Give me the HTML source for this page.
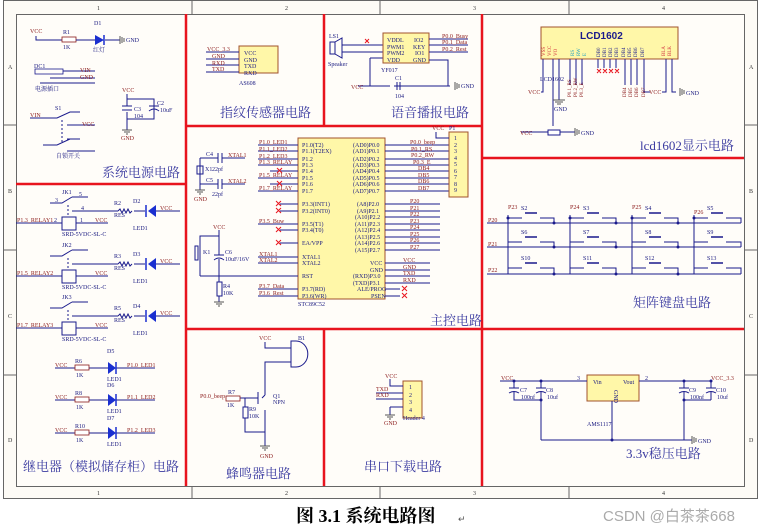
<!DOCTYPE html>
<html><head><meta charset="utf-8"><style>
html,body{margin:0;padding:0;background:#fff;width:769px;height:532px;overflow:hidden}
svg{display:block}
text{font-family:"Liberation Serif","Noto Serif CJK SC",serif}
.s{font-size:6px;fill:#1a1a80}
.r{font-size:6px;fill:#8b1a1a}
.cap{font-size:13px;fill:#3a3aa0}
.w{stroke:#1a1a8c;stroke-width:1;fill:none}
.g{stroke:#555;stroke-width:1;fill:none}
.red{stroke:#e8141e;stroke-width:2.5;fill:none}
.box{fill:#fff7a8;stroke:#a0522d;stroke-width:1}
.x{stroke:#e8141e;stroke-width:1}
</style></head><body>
<svg width="769" height="532" viewBox="0 0 769 532" xmlns="http://www.w3.org/2000/svg">
<rect x="0" y="0" width="769" height="532" fill="#fff"/>
<rect x="3.5" y="0.5" width="754" height="498" fill="#fdfbf6" stroke="#666"/>
<rect x="16.5" y="14.5" width="728" height="472" fill="#fffdf9" stroke="#666"/>
<g stroke="#666"><line x1="192" y1="0" x2="192" y2="14"/><line x1="380" y1="0" x2="380" y2="14"/><line x1="569" y1="0" x2="569" y2="14"/>
<line x1="192" y1="486" x2="192" y2="499"/><line x1="380" y1="486" x2="380" y2="499"/><line x1="569" y1="486" x2="569" y2="499"/>
<line x1="3" y1="125" x2="16" y2="125"/><line x1="3" y1="250" x2="16" y2="250"/><line x1="3" y1="375" x2="16" y2="375"/>
<line x1="744" y1="125" x2="757" y2="125"/><line x1="744" y1="250" x2="757" y2="250"/><line x1="744" y1="375" x2="757" y2="375"/></g>
<g style="font-size:6px;fill:#333">
<text x="97" y="10">1</text><text x="285" y="10">2</text><text x="473" y="10">3</text><text x="662" y="10">4</text>
<text x="97" y="495">1</text><text x="285" y="495">2</text><text x="473" y="495">3</text><text x="662" y="495">4</text>
<text x="8" y="69">A</text><text x="8" y="193">B</text><text x="8" y="318">C</text><text x="8" y="442">D</text>
<text x="749" y="69">A</text><text x="749" y="193">B</text><text x="749" y="318">C</text><text x="749" y="442">D</text></g>

<g class="red">
<line x1="186" y1="14" x2="186" y2="486"/><line x1="16" y1="184" x2="186" y2="184"/>
<line x1="186" y1="126" x2="482" y2="126"/><line x1="324" y1="14" x2="324" y2="126"/>
<line x1="482" y1="14" x2="482" y2="486"/><line x1="482" y1="158" x2="744" y2="158"/>
<line x1="186" y1="329" x2="744" y2="329"/><line x1="324" y1="329" x2="324" y2="486"/>
</g>

<text class="cap" x="102" y="177">系统电源电路</text>
<text class="cap" x="220" y="117">指纹传感器电路</text>
<text class="cap" x="391" y="117">语音播报电路</text>
<text class="cap" x="640" y="150">lcd1602显示电路</text>
<text class="cap" x="430" y="325">主控电路</text>
<text class="cap" x="633" y="307">矩阵键盘电路</text>
<text class="cap" x="23" y="471">继电器（模拟储存柜）电路</text>
<text class="cap" x="226" y="478">蜂鸣器电路</text>
<text class="cap" x="364" y="471">串口下载电路</text>
<text class="cap" x="626" y="458">3.3v稳压电路</text>

<g>
<text class="r" x="30" y="33">VCC</text><path class="w" d="M36 36 V40 H62"/>
<rect x="62" y="37" width="14" height="5" fill="#fff" stroke="#8b1a1a" stroke-width="0.8"/><text class="s" x="63" y="34">R1</text><text class="s" x="63" y="49">1K</text>
<path class="w" d="M76 40 H95 M105 40 H120"/><path d="M95 35 L95 45 L104 40 Z" fill="#1a2fd0"/><line x1="104" y1="35" x2="104" y2="45" stroke="#1a2fd0" stroke-width="1.5"/>
<text class="s" x="94" y="25">D1</text><text class="s" x="93" y="52">红灯</text><path class="g" d="M120 36 V44 M122 37 V43 M124 38 V42"/><text class="s" x="126" y="42">GND</text>
<text class="s" x="34" y="68">DC1</text><rect x="35" y="69" width="28" height="5" fill="none" stroke="#1a1a8c" stroke-width="0.8"/>
<path class="w" d="M63 71 H95 M40 83 H95 M50 78 H95"/><text class="r" x="80" y="72">VIN</text><text class="r" x="80" y="79">GND</text><text class="s" x="35" y="91">电源插口</text>
<text class="r" x="30" y="117">VIN</text><path class="w" d="M30 118 H57 L70 112 H80 M67 125 H95 M67 139 H80 M43 145 H57 L70 139 M67 151 H95"/>
<line x1="62" y1="120" x2="62" y2="143" stroke="#1a1a8c" stroke-dasharray="2,2"/><text class="s" x="55" y="110">S1</text><text class="r" x="82" y="126">VCC</text><text class="s" x="56" y="158">自锁开关</text>
<text class="r" x="122" y="92">VCC</text><path class="w" d="M127 94 V99 H154 V119 H127 V130 M127 99 V106 M127 112 V119"/>
<line x1="122" y1="106" x2="132" y2="106" stroke="#1a1a8c"/><line x1="122" y1="110" x2="132" y2="110" stroke="#1a1a8c"/>
<line x1="149" y1="106" x2="159" y2="106" stroke="#1a1a8c"/><path d="M149 111 Q154 107 159 111" class="w"/>
<text class="s" x="134" y="111">C3</text><text class="s" x="134" y="118">104</text><text class="s" x="157" y="105">C2</text><text class="s" x="160" y="112">10uF</text>
<path class="g" d="M122 130 H132 M124 132 H130 M126 134 H128"/><text class="r" x="121" y="140">GND</text>
</g>

<g>
<text class="s" x="62" y="194">JK1</text><path class="w" d="M50 203 H62 L72 197 M72 197 H88 M72 211 H118 M134 211 H145"/>
<text class="s" x="79" y="196">5</text><text class="s" x="55" y="202">3</text><text class="s" x="81" y="210">4</text>
<line x1="68" y1="205" x2="68" y2="217" stroke="#1a1a8c" stroke-dasharray="2,2"/>
<rect x="62" y="217" width="14" height="13" fill="none" stroke="#1a1a8c"/>
<path class="w" d="M16 223 H62 M76 223 H108"/><text class="r" x="17" y="222">P1.3_RELAY1</text><text class="s" x="54" y="222">2</text><text class="s" x="80" y="222">1</text><text class="r" x="95" y="222">VCC</text>
<text class="s" x="62" y="236">SRD-5VDC-SL-C</text>
<text class="s" x="114" y="205">R2</text><text class="s" x="114" y="217">RES</text><path class="w" d="M118 211 l2 -2 l2 4 l2 -4 l2 4 l2 -4 l2 4 l2 -2"/>
<path d="M148 211 L156 205 L156 217 Z" fill="#1a2fd0"/><line x1="146" y1="205" x2="146" y2="217" stroke="#1a2fd0" stroke-width="1.5"/>
<path class="w" d="M156 211 H180"/><text class="s" x="133" y="203">D2</text><text class="r" x="160" y="210">VCC</text><text class="s" x="133" y="230">LED1</text>
</g>
<g transform="translate(0,53)"><text class="s" x="62" y="194">JK2</text><path class="w" d="M50 203 H62 L72 197 M72 197 H88 M72 211 H118 M134 211 H145"/>
<line x1="68" y1="205" x2="68" y2="217" stroke="#1a1a8c" stroke-dasharray="2,2"/><rect x="62" y="217" width="14" height="13" fill="none" stroke="#1a1a8c"/>
<path class="w" d="M16 223 H62 M76 223 H108"/><text class="r" x="17" y="222">P1.5_RELAY2</text><text class="r" x="95" y="222">VCC</text><text class="s" x="62" y="236">SRD-5VDC-SL-C</text>
<text class="s" x="114" y="205">R3</text><text class="s" x="114" y="217">RES</text><path class="w" d="M118 211 l2 -2 l2 4 l2 -4 l2 4 l2 -4 l2 4 l2 -2"/>
<path d="M148 211 L156 205 L156 217 Z" fill="#1a2fd0"/><line x1="146" y1="205" x2="146" y2="217" stroke="#1a2fd0" stroke-width="1.5"/>
<path class="w" d="M156 211 H180"/><text class="s" x="133" y="203">D3</text><text class="r" x="160" y="210">VCC</text><text class="s" x="133" y="230">LED1</text></g>
<g transform="translate(0,105)"><text class="s" x="62" y="194">JK3</text><path class="w" d="M50 203 H62 L72 197 M72 197 H88 M72 211 H118 M134 211 H145"/>
<line x1="68" y1="205" x2="68" y2="217" stroke="#1a1a8c" stroke-dasharray="2,2"/><rect x="62" y="217" width="14" height="13" fill="none" stroke="#1a1a8c"/>
<path class="w" d="M16 223 H62 M76 223 H108"/><text class="r" x="17" y="222">P1.7_RELAY3</text><text class="r" x="95" y="222">VCC</text><text class="s" x="62" y="236">SRD-5VDC-SL-C</text>
<text class="s" x="114" y="205">R5</text><text class="s" x="114" y="217">RES</text><path class="w" d="M118 211 l2 -2 l2 4 l2 -4 l2 4 l2 -4 l2 4 l2 -2"/>
<path d="M148 211 L156 205 L156 217 Z" fill="#1a2fd0"/><line x1="146" y1="205" x2="146" y2="217" stroke="#1a2fd0" stroke-width="1.5"/>
<path class="w" d="M156 211 H180"/><text class="s" x="133" y="203">D4</text><text class="r" x="160" y="210">VCC</text><text class="s" x="133" y="230">LED1</text></g>

<g><text class="r" x="55" y="367">VCC</text><path class="w" d="M55 368 H75 M89 368 H108 M116 368 H155"/><rect x="75" y="365" width="14" height="5" fill="#fff" stroke="#8b1a1a" stroke-width="0.8"/>
<text class="s" x="75" y="363">R6</text><text class="s" x="76" y="377">1K</text><path d="M108 362 L116 368 L108 374 Z" fill="#1a2fd0"/><line x1="116" y1="362" x2="116" y2="374" stroke="#1a2fd0" stroke-width="1.5"/>
<text class="s" x="107" y="353">D5</text><text class="s" x="107" y="381">LED1</text><text class="r" x="127" y="367">P1.0_LED1</text></g>
<g transform="translate(0,32)"><text class="r" x="55" y="367">VCC</text><path class="w" d="M55 368 H75 M89 368 H108 M116 368 H155"/><rect x="75" y="365" width="14" height="5" fill="#fff" stroke="#8b1a1a" stroke-width="0.8"/>
<text class="s" x="75" y="363">R8</text><text class="s" x="76" y="377">1K</text><path d="M108 362 L116 368 L108 374 Z" fill="#1a2fd0"/><line x1="116" y1="362" x2="116" y2="374" stroke="#1a2fd0" stroke-width="1.5"/>
<text class="s" x="107" y="355">D6</text><text class="s" x="107" y="381">LED1</text><text class="r" x="127" y="367">P1.1_LED2</text></g>
<g transform="translate(0,65)"><text class="r" x="55" y="367">VCC</text><path class="w" d="M55 368 H75 M89 368 H108 M116 368 H155"/><rect x="75" y="365" width="14" height="5" fill="#fff" stroke="#8b1a1a" stroke-width="0.8"/>
<text class="s" x="75" y="363">R10</text><text class="s" x="76" y="377">1K</text><path d="M108 362 L116 368 L108 374 Z" fill="#1a2fd0"/><line x1="116" y1="362" x2="116" y2="374" stroke="#1a2fd0" stroke-width="1.5"/>
<text class="s" x="107" y="355">D7</text><text class="s" x="107" y="381">LED1</text><text class="r" x="127" y="367">P1.2_LED3</text></g>

<rect class="box" x="239" y="46" width="39" height="27"/>
<g class="w"><path d="M206 52 H239 M206 59 H239 M206 65 H239 M206 72 H239"/></g>
<text class="r" x="207" y="51">VCC_3.3</text><text class="r" x="212" y="58">GND</text><text class="r" x="212" y="65">RXD</text><text class="r" x="212" y="71">TXD</text>
<text class="s" x="244" y="55">VCC</text><text class="s" x="244" y="62">GND</text><text class="s" x="244" y="68">TXD</text><text class="s" x="244" y="75">RXD</text>
<text class="s" x="239" y="85">AS608</text>

<rect x="330" y="42" width="5" height="12" fill="none" stroke="#1a1a8c"/><path class="w" d="M335 42 L342 38 V58 L335 54"/>
<text class="s" x="329" y="38">LS1</text><text class="s" x="328" y="66">Speaker</text>
<path class="w" d="M342 45 H383 M342 52 H383 M370 58 H383 M370 58 V86 M358 86 H390 M394 86 H450"/>
<line x1="365" y1="39" x2="369" y2="43" class="x"/><line x1="369" y1="39" x2="365" y2="43" class="x"/>
<rect class="box" x="383" y="33" width="46" height="30"/>
<text class="s" x="387" y="42">VDDL</text><text class="s" x="387" y="49">PWM1</text><text class="s" x="387" y="55">PWM2</text><text class="s" x="387" y="62">VDD</text>
<text class="s" x="414" y="42">IO2</text><text class="s" x="413" y="49">KEY</text><text class="s" x="415" y="55">IO1</text><text class="s" x="413" y="62">GND</text>
<text class="s" x="381" y="72">YF017</text>
<path class="w" d="M429 39 H468 M429 45 H468 M429 52 H468 M429 60 H448 V86"/>
<text class="r" x="442" y="38">P0.0_Busy</text><text class="r" x="442" y="44">P0.1_Data</text><text class="r" x="442" y="51">P0.2_Rest</text>
<line x1="397" y1="82" x2="397" y2="90" stroke="#1a1a8c"/><line x1="400" y1="82" x2="400" y2="90" stroke="#1a1a8c"/>
<text class="s" x="395" y="80">C1</text><text class="s" x="395" y="98">104</text><text class="r" x="351" y="89">VCC</text>
<path class="g" d="M455 82 V90 M457 83 V89 M459 84 V88"/><text class="s" x="461" y="88">GND</text>

<rect class="box" x="541" y="27" width="137" height="32"/>
<text x="580" y="39" style="font-family:'Liberation Sans',sans-serif;font-size:10px;font-weight:bold;fill:#1a1a8c">LCD1602</text>
<g style="font-size:5px;fill:#d03040"><text x="545" y="56" transform="rotate(-90 545 56)">VSS</text><text x="551" y="56" transform="rotate(-90 551 56)">VCC</text><text x="557" y="56" transform="rotate(-90 557 56)">VO</text></g>
<g style="font-size:5px;fill:#20a0c0"><text x="574" y="56" transform="rotate(-90 574 56)">RS</text><text x="580" y="56" transform="rotate(-90 580 56)">RW</text><text x="586" y="56" transform="rotate(-90 586 56)">E</text></g>
<g style="font-size:5px;fill:#1a1a8c"><text x="600" y="57" transform="rotate(-90 600 57)">DB0</text><text x="606" y="57" transform="rotate(-90 606 57)">DB1</text><text x="612" y="57" transform="rotate(-90 612 57)">DB2</text><text x="618" y="57" transform="rotate(-90 618 57)">DB3</text><text x="625" y="57" transform="rotate(-90 625 57)">DB4</text><text x="631" y="57" transform="rotate(-90 631 57)">DB5</text><text x="637" y="57" transform="rotate(-90 637 57)">DB6</text><text x="644" y="57" transform="rotate(-90 644 57)">DB7</text></g>
<g style="font-size:5px;fill:#d03040"><text x="665" y="56" transform="rotate(-90 665 56)">BLA</text><text x="671" y="56" transform="rotate(-90 671 56)">BLK</text></g>
<path class="w" d="M543 59 V92 H541 M553 59 V126 M559 59 V100 M570 59 V85 M576 59 V85 M582 59 V85 M598 59 V68 M604 59 V68 M610 59 V68 M616 59 V68 M625 59 V85 M631 59 V85 M637 59 V85 M644 59 V92 H650 M666 59 V92 H662 M672 59 V92 H676"/>
<g class="x"><path d="M597 69 l4 4 M601 69 l-4 4 M603 69 l4 4 M607 69 l-4 4 M609 69 l4 4 M613 69 l-4 4 M615 69 l4 4 M619 69 l-4 4"/></g>
<text class="s" x="540" y="81">LCD1602</text><text class="r" x="528" y="94">VCC</text><text class="r" x="649" y="94">VCC</text>
<g style="font-size:5px;fill:#8b1a1a"><text x="571" y="97" transform="rotate(-90 571 97)">P0.1_RS</text><text x="577" y="97" transform="rotate(-90 577 97)">P0.2_RW</text><text x="583" y="97" transform="rotate(-90 583 97)">P0.3_E</text>
<text x="626" y="97" transform="rotate(-90 626 97)">DB4</text><text x="632" y="97" transform="rotate(-90 632 97)">DB5</text><text x="638" y="97" transform="rotate(-90 638 97)">DB6</text><text x="645" y="97" transform="rotate(-90 645 97)">DB7</text></g>
<path class="g" d="M553 100 H565 M555 102 H563 M557 104 H561"/><text class="s" x="554" y="111">GND</text>
<path class="w" d="M521 132 H548 M560 132 H575"/><rect x="548" y="130" width="12" height="5" fill="#fff" stroke="#1a1a8c"/><text class="r" x="520" y="135">VCC</text>
<path class="g" d="M575 128 V136 M577 129 V135 M579 130 V134 M680 88 V96 M682 89 V95 M684 90 V94"/><text class="s" x="581" y="135">GND</text><text class="s" x="686" y="95">GND</text>

<rect class="box" x="298" y="138" width="87" height="161"/>
<g class="w">
<path d="M258 145 H298 M258 151 H298 M258 159 H298 M258 165 H298 M270 171 H298 M258 178 H298 M270 184 H298 M258 191 H298 M280 204 H298 M280 211 H298 M258 224 H298 M280 230 H298 M280 243 H298 M258 257 H298 M258 263 H298 M200 276 H298 M258 289 H298 M258 296 H298"/>
<path d="M385 145 H450 M385 151 H450 M385 159 H450 M385 165 H450 M385 171 H450 M385 178 H450 M385 184 H450 M385 191 H450"/>
<path d="M385 204 H440 M385 211 H440 M385 217 H440 M385 224 H440 M385 230 H440 M385 237 H440 M385 243 H440 M385 250 H440 M385 263 H430 M385 270 H430 M385 276 H430 M385 283 H430 M385 289 H400 M385 296 H400"/>
</g>
<g class="x"><path d="M277 168 l5 5 M282 168 l-5 5 M277 181 l5 5 M282 181 l-5 5 M276 201 l5 5 M281 201 l-5 5 M276 208 l5 5 M281 208 l-5 5 M276 227 l5 5 M281 227 l-5 5 M276 240 l5 5 M281 240 l-5 5 M402 286 l5 5 M407 286 l-5 5 M402 293 l5 5 M407 293 l-5 5"/></g>
<g class="r"><text x="259" y="144">P1.0_LED1</text><text x="259" y="151">P1.1_LED2</text><text x="259" y="158">P1.2_LED3</text><text x="259" y="164">P1.3_RELAY</text><text x="259" y="177">P1.5_RELAY</text><text x="259" y="190">P1.7_RELAY</text>
<text x="259" y="223">P3.5_Buw</text><text x="259" y="256">XTAL1</text><text x="259" y="262">XTAL2</text><text x="259" y="288">P3.7_Data</text><text x="259" y="295">P3.6_Rest</text>
<text x="410" y="144">P0.0_beep</text><text x="411" y="151">P0.1_RS</text><text x="411" y="157">P0.2_RW</text><text x="413" y="164">P0.3_E</text><text x="418" y="170">DB4</text><text x="418" y="177">DB5</text><text x="418" y="183">DB6</text><text x="418" y="190">DB7</text>
<text x="410" y="203">P20</text><text x="410" y="210">P21</text><text x="410" y="216">P22</text><text x="410" y="223">P23</text><text x="410" y="229">P24</text><text x="410" y="236">P25</text><text x="410" y="242">P26</text><text x="410" y="249">P27</text>
<text x="403" y="262">VCC</text><text x="403" y="269">GND</text><text x="403" y="275">TXD</text><text x="403" y="282">RXD</text></g>
<g class="s"><text x="302" y="147">P1.0(T2)</text><text x="302" y="153">P1.1(T2EX)</text><text x="302" y="161">P1.2</text><text x="302" y="167">P1.3</text><text x="302" y="173">P1.4</text><text x="302" y="180">P1.5</text><text x="302" y="186">P1.6</text><text x="302" y="193">P1.7</text>
<text x="302" y="206">P3.3(INT1)</text><text x="302" y="213">P3.2(INT0)</text><text x="302" y="226">P3.5(T1)</text><text x="302" y="232">P3.4(T0)</text><text x="302" y="245">EA/VPP</text><text x="302" y="259">XTAL1</text><text x="302" y="265">XTAL2</text><text x="302" y="278">RST</text><text x="302" y="291">P3.7(RD)</text><text x="302" y="298">P3.6(WR)</text>
<text x="353" y="147">(AD0)P0.0</text><text x="353" y="153">(AD1)P0.1</text><text x="353" y="161">(AD2)P0.2</text><text x="353" y="167">(AD3)P0.3</text><text x="353" y="173">(AD4)P0.4</text><text x="353" y="180">(AD5)P0.5</text><text x="353" y="186">(AD6)P0.6</text><text x="353" y="193">(AD7)P0.7</text>
<text x="357" y="206">(A8)P2.0</text><text x="357" y="213">(A9)P2.1</text><text x="355" y="219">(A10)P2.2</text><text x="355" y="226">(A11)P2.3</text><text x="355" y="232">(A12)P2.4</text><text x="355" y="239">(A13)P2.5</text><text x="355" y="245">(A14)P2.6</text><text x="355" y="252">(A15)P2.7</text>
<text x="370" y="265">VCC</text><text x="370" y="272">GND</text><text x="353" y="278">(RXD)P3.0</text><text x="353" y="285">(TXD)P3.1</text><text x="357" y="291">ALE/PROG</text><text x="371" y="298">PSEN</text>
<text x="298" y="306">STC89C52</text></g>
<rect class="box" x="449" y="132" width="19" height="65"/>
<g class="s"><text x="454" y="140">1</text><text x="454" y="147">2</text><text x="454" y="153">3</text><text x="454" y="160">4</text><text x="454" y="166">5</text><text x="454" y="173">6</text><text x="454" y="179">7</text><text x="454" y="186">8</text><text x="454" y="192">9</text><text x="449" y="130">P1</text></g>
<text class="r" x="432" y="130">VCC</text><path class="w" d="M436 132 V138 H449"/>
<g class="w"><path d="M200 158 H218 M222 158 H245 M200 184 H218 M222 184 H245 M200 158 V184 M200 184 V190"/><path d="M218 153 V163 M222 153 V163 M218 179 V189 M222 179 V189"/></g>
<rect x="197" y="166" width="6" height="8" fill="none" stroke="#1a1a8c"/>
<text class="s" x="206" y="156">C4</text><text class="r" x="228" y="157">XTAL1</text><text class="s" x="205" y="171">X1</text><text class="s" x="212" y="171">22pf</text>
<text class="s" x="206" y="182">C5</text><text class="r" x="228" y="183">XTAL2</text><text class="s" x="212" y="196">22pf</text>
<path class="g" d="M195 190 H205 M197 192 H203 M199 194 H201"/><text class="r" x="194" y="201">GND</text>
<text class="r" x="213" y="229">VCC</text><path class="w" d="M219 230 V236 H200 V276 M219 236 V255 M219 259 V276 M219 276 V282 M219 296 V302"/>
<line x1="214" y1="255" x2="224" y2="255" stroke="#1a1a8c"/><path d="M214 260 Q219 256 224 260" class="w"/>
<rect x="195" y="246" width="3" height="14" fill="none" stroke="#1a1a8c"/><text class="s" x="203" y="254">K1</text><text class="s" x="225" y="254">C6</text><text class="s" x="225" y="261">10uF/16V</text>
<rect x="217" y="282" width="5" height="14" fill="none" stroke="#1a1a8c"/><text class="s" x="223" y="288">R4</text><text class="s" x="223" y="295">10K</text>
<path class="g" d="M214 302 H224 M216 304 H222 M218 306 H220"/>

<g class="w">
<path d="M487 223 H741 M487 247 H741 M487 274 H741"/>
<path d="M508 215 V274 M570 215 V274 M632 215 V274 M694 215 V274"/>
<path d="M508 218 H522 M540 218 H554 V223 M508 242 H522 M540 242 H554 V247 M508 268 H522 M540 268 H554 V274"/>
<path d="M570 218 H584 M602 218 H616 V223 M570 242 H584 M602 242 H616 V247 M570 268 H584 M602 268 H616 V274"/>
<path d="M632 218 H646 M664 218 H678 V223 M632 242 H646 M664 242 H678 V247 M632 268 H646 M664 268 H678 V274"/>
<path d="M694 218 H708 M726 218 H741 V223 M694 242 H708 M726 242 H741 V247 M694 268 H708 M726 268 H741 V274"/>
<path d="M525 213 H537 M587 213 H599 M649 213 H661 M711 213 H723 M525 237 H537 M587 237 H599 M649 237 H661 M711 237 H723 M525 263 H537 M587 263 H599 M649 263 H661 M711 263 H723" stroke-width="1.5"/>
</g>
<g fill="#1a1a8c"><circle cx="508" cy="218" r="1.5"/><circle cx="570" cy="218" r="1.5"/><circle cx="632" cy="218" r="1.5"/><circle cx="694" cy="218" r="1.5"/><circle cx="554" cy="223" r="1.5"/><circle cx="616" cy="223" r="1.5"/><circle cx="678" cy="223" r="1.5"/><circle cx="554" cy="247" r="1.5"/><circle cx="616" cy="247" r="1.5"/><circle cx="678" cy="247" r="1.5"/><circle cx="554" cy="274" r="1.5"/><circle cx="616" cy="274" r="1.5"/><circle cx="678" cy="274" r="1.5"/></g>
<g class="r"><text x="488" y="222">P20</text><text x="488" y="246">P21</text><text x="488" y="272">P22</text><text x="508" y="209">P23</text><text x="570" y="209">P24</text><text x="632" y="209">P25</text><text x="694" y="214">P26</text></g>
<g class="s"><text x="521" y="210">S2</text><text x="583" y="210">S3</text><text x="645" y="210">S4</text><text x="707" y="210">S5</text><text x="521" y="234">S6</text><text x="583" y="234">S7</text><text x="645" y="234">S8</text><text x="707" y="234">S9</text><text x="521" y="260">S10</text><text x="583" y="260">S11</text><text x="645" y="260">S12</text><text x="707" y="260">S13</text></g>

<text class="r" x="259" y="340">VCC</text><path class="w" d="M265 342 V348 H291 M291 362 H265 V395 M262 398 L265 395 M265 410 V432 M232 398 H245 M240 398 H258 V392 M258 404 V398 M245 398 V407 M245 418 V432 H265 M265 432 V446"/>
<path d="M291 341 H296 A10 11 0 0 1 296 367 H291 Z" fill="none" stroke="#1a1a8c"/><text class="s" x="298" y="340">B1</text>
<text class="r" x="200" y="398">P0.0_beep</text><rect x="226" y="396" width="14" height="5" fill="#fff" stroke="#8b1a1a" stroke-width="0.8"/>
<text class="s" x="228" y="394">R7</text><text class="s" x="227" y="407">1K</text><rect x="243" y="407" width="5" height="11" fill="none" stroke="#1a1a8c"/><text class="s" x="249" y="411">R9</text><text class="s" x="249" y="418">10K</text>
<text class="s" x="273" y="398">Q1</text><text class="s" x="273" y="404">NPN</text>
<path class="g" d="M260 446 H270 M262 448 H268 M264 450 H266"/><text class="r" x="260" y="458">GND</text>

<rect class="box" x="403" y="381" width="19" height="37"/>
<g class="s"><text x="409" y="389">1</text><text x="409" y="397">2</text><text x="409" y="404">3</text><text x="409" y="412">4</text><text x="403" y="420">Header 4</text></g>
<text class="r" x="385" y="378">VCC</text><path class="w" d="M390 379 V386 H403 M376 393 H403 M376 399 H403 M390 407 H403 M390 407 V415"/>
<text class="r" x="376" y="391">TXD</text><text class="r" x="376" y="397">RXD</text>
<path class="g" d="M385 415 H395 M387 417 H393 M389 419 H391"/><text class="r" x="384" y="425">GND</text>

<rect class="box" x="587" y="375" width="52" height="26"/>
<text class="s" x="593" y="384">Vin</text><text class="s" x="623" y="384">Vout</text><text class="s" x="614" y="390" transform="rotate(90 614 390)">GND</text>
<path class="w" d="M500 381 H587 M639 381 H710 M514 381 V388 M514 392 V400 H541 M541 381 V388 M541 392 V440 M612 401 V440 M541 440 H692 M684 381 V388 M684 392 V400 H711 M711 381 V388 M711 392 V400 M684 400 V440"/>
<line x1="509" y1="388" x2="519" y2="388" stroke="#1a1a8c"/><path d="M509 393 Q514 390 519 393" class="w"/>
<line x1="536" y1="388" x2="546" y2="388" stroke="#1a1a8c"/><path d="M536 393 Q541 390 546 393" class="w"/>
<line x1="679" y1="388" x2="689" y2="388" stroke="#1a1a8c"/><path d="M679 393 Q684 390 689 393" class="w"/>
<line x1="706" y1="388" x2="716" y2="388" stroke="#1a1a8c"/><path d="M706 393 Q711 390 716 393" class="w"/>
<g class="s"><text x="520" y="392">C7</text><text x="521" y="399">100nf</text><text x="546" y="392">C8</text><text x="547" y="399">10uf</text><text x="689" y="392">C9</text><text x="690" y="399">100nf</text><text x="716" y="392">C10</text><text x="717" y="399">10uf</text><text x="587" y="426">AMS1117</text><text x="577" y="380">3</text><text x="645" y="380">2</text></g>
<text class="r" x="501" y="380">VCC</text><text class="r" x="711" y="380">VCC_3.3</text>
<path class="g" d="M692 436 V444 M694 437 V443 M696 438 V442"/><text class="s" x="698" y="443">GND</text>
<g fill="#1a1a8c"><circle cx="514" cy="381" r="1.5"/><circle cx="541" cy="381" r="1.5"/><circle cx="541" cy="400" r="1.5"/><circle cx="612" cy="440" r="1.5"/><circle cx="684" cy="381" r="1.5"/><circle cx="711" cy="381" r="1.5"/><circle cx="684" cy="400" r="1.5"/></g>

<text x="296" y="522" style="font-size:18px;font-weight:bold;fill:#000">图 3.1  系统电路图</text>
<text x="458" y="522" style="font-size:9px;fill:#555">↵</text>
<text x="603" y="521" style="font-family:'Liberation Sans','Noto Sans CJK SC',sans-serif;font-size:15px;fill:#aaa">CSDN @白茶茶668</text>
</svg>
</body></html>
